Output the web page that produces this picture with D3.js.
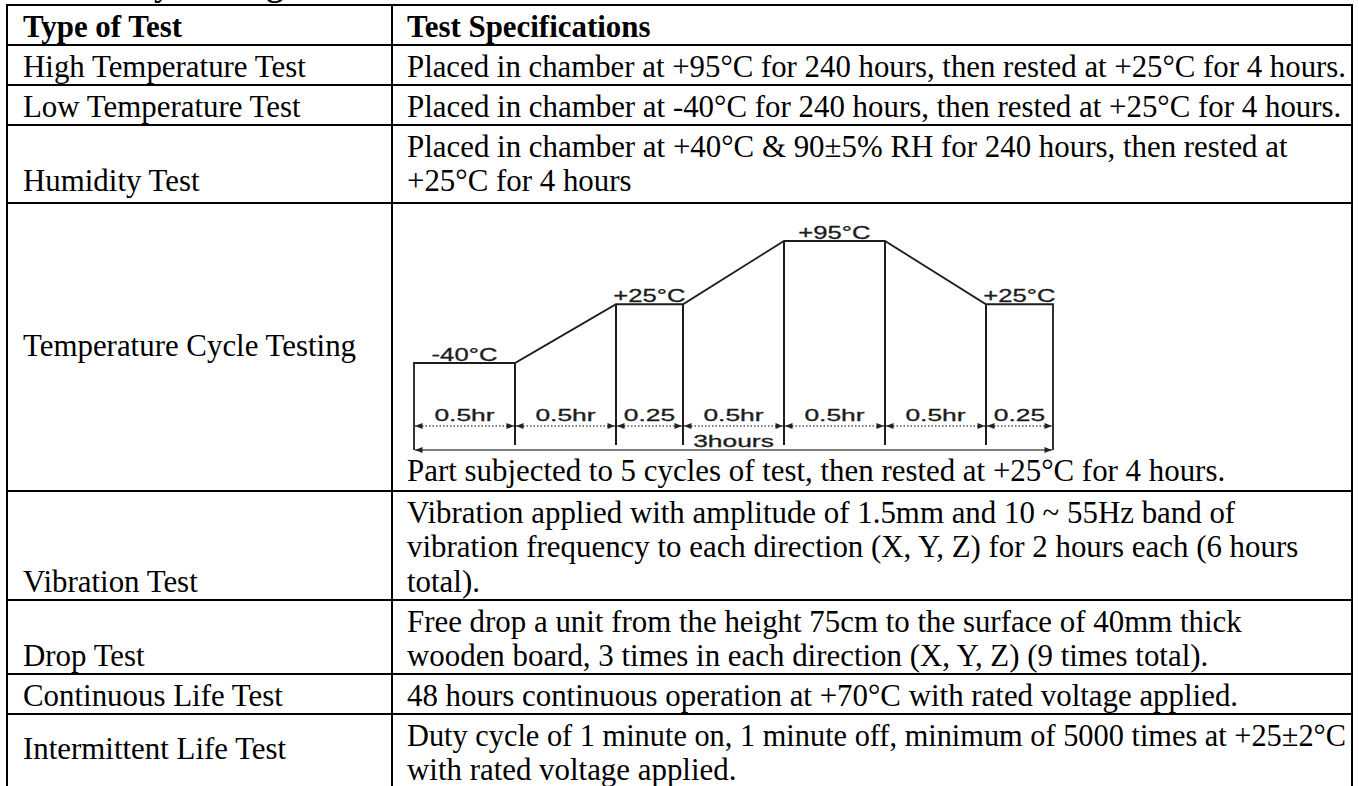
<!DOCTYPE html>
<html>
<head>
<meta charset="utf-8">
<script src="https://cdn.jsdelivr.net/npm/d3@7"></script>
<style>
  body { margin: 0; background: #fff; }
</style>
</head>
<body>
<script>
// table content
var testTypes = ["Type of Test", "High Temperature Test", "Low Temperature Test", "Humidity Test",
    "Temperature Cycle Testing", "Vibration Test", "Drop Test", "Continuous Life Test", "Intermittent Life Test"]
var testSpecs = [
    ["Test Specifications"],
    ["Placed in chamber at +95°C for 240 hours, then rested at +25°C for 4 hours."],
    ["Placed in chamber at -40°C for 240 hours, then rested at +25°C for 4 hours."],
    ["Placed in chamber at +40°C & 90±5% RH for 240 hours, then rested at", "+25°C for 4 hours"],
    ["Part subjected to 5 cycles of test, then rested at +25°C for 4 hours."],
    ["Vibration applied with amplitude of 1.5mm and 10 ~ 55Hz band of",
        "vibration frequency to each direction (X, Y, Z) for 2 hours each (6 hours", "total)."],
    ["Free drop a unit from the height 75cm to the surface of 40mm thick",
        "wooden board, 3 times in each direction (X, Y, Z) (9 times total)."],
    ["48 hours continuous operation at +70°C with rated voltage applied."],
    ["Duty cycle of 1 minute on, 1 minute off, minimum of 5000 times at +25±2°C", "with rated voltage applied."]
]
var titleText = "Reliability Testing"

// temperature cycle profile
var cycleDurations = [0.5, 0.5, 0.25, 0.5, 0.5, 0.5, 0.25]
var cycleLevels = [-40, -40, 25, 25, 95, 95, 25, 25]   // temperature at each segment boundary
var durationLabels = ["0.5hr", "0.5hr", "0.25", "0.5hr", "0.5hr", "0.5hr", "0.25"]
var holdSegments = [0, 2, 4, 6]
var levelLabels = ["-40°C", "+25°C", "+95°C", "+25°C"]
var totalLabel = "3hours"

// layout
var W = 1359, H = 786
var colX = [7, 392, 1352]
var rowEdges = [5, 45, 85, 125, 203, 491, 600, 674, 714, 800]
var rowAlign = ["bottom", "bottom", "bottom", "bottom", "middle", "bottom", "bottom", "bottom", "middle"]
var firstBase = 31.5, lineH = 34.5
var serif = "'Liberation Serif', 'Times New Roman', serif"
var sans = "'Liberation Sans', Arial, sans-serif"

var svg = d3.select("body").append("svg")
    .attr("width", W).attr("height", H)

// size the serif so the first spec line has the reference width
var probe = svg.append("text").style("font-family", serif).style("font-size", "100px").text(testSpecs[1][0])
var fs = 100 * 942 / probe.node().getComputedTextLength()
probe.remove()

svg.append("text")
    .attr("x", 20).attr("y", -4)
    .style("font-family", serif).style("font-weight", "bold").style("font-size", (fs * 1.1) + "px")
    .text(titleText)

// grid lines
var grid = svg.append("g").attr("stroke", "#000").attr("stroke-width", 2)
grid.selectAll("line.h").data(rowEdges.slice(0, -1)).enter().append("line")
    .attr("class", "h")
    .attr("x1", colX[0] - 1).attr("x2", colX[2] + 1)
    .attr("y1", function(d) { return d }).attr("y2", function(d) { return d })
grid.selectAll("line.v").data(colX).enter().append("line")
    .attr("class", "v")
    .attr("x1", function(d) { return d }).attr("x2", function(d) { return d })
    .attr("y1", rowEdges[0]).attr("y2", H + 10)

// cell text
var rows = svg.append("g").selectAll("g").data(testTypes).enter().append("g")
    .style("font-family", serif).style("font-size", fs + "px").attr("fill", "#000")
    .style("font-weight", function(d, i) { return i === 0 ? "bold" : "normal" })

rows.append("text")
    .attr("x", colX[0] + 16)
    .attr("y", function(d, i) {
        var top = rowEdges[i], bottom = rowEdges[i + 1]
        if (rowAlign[i] === "middle") return (top + Math.min(bottom, 786)) / 2 + 9
        return top + firstBase + (testSpecs[i].length - 1) * lineH
    })
    .text(function(d) { return d })

var specMax = colX[2] - colX[1] - 21
rows.each(function(d, i) {
    var g = d3.select(this)
    var lines = testSpecs[i]
    var y0 = rowEdges[i] + firstBase
    if (i === 4) y0 = rowEdges[i + 1] - 10   // caption under the diagram
    g.selectAll("text.spec").data(lines).enter().append("text")
        .attr("class", "spec")
        .attr("x", colX[1] + 15)
        .attr("y", function(l, j) { return y0 + j * lineH })
        .text(function(l) { return l })
        .each(function() {
            // squeeze a line that would run past the cell edge
            if (this.getComputedTextLength() > specMax) {
                d3.select(this).attr("textLength", specMax).attr("lengthAdjust", "spacingAndGlyphs")
            }
        })
})

// temperature cycle diagram
var diag = svg.append("g")
var defs = svg.append("defs")
defs.append("marker")
    .attr("id", "arrow")
    .attr("viewBox", "0 0 10 8").attr("refX", 10).attr("refY", 4)
    .attr("markerWidth", 9).attr("markerHeight", 6).attr("markerUnits", "userSpaceOnUse")
    .attr("orient", "auto-start-reverse")
    .append("path").attr("d", "M0,0L10,4L0,8Z").attr("fill", "#222")

var segWidth = d3.scaleLinear().domain([0, 0.25, 0.5]).range([0, 67, 101])
var x0 = 414
var bounds = [x0]
cycleDurations.forEach(function(d) { bounds.push(bounds[bounds.length - 1] + segWidth(d)) })
var yT = d3.scaleLinear().domain([-40, 95]).range([363, 241])
var dimY = 426, baseY = 450, tickBottom = 445

var profile = bounds.map(function(x, i) { return [x, yT(cycleLevels[i])] })
profile.unshift([x0, baseY])
profile.push([bounds[bounds.length - 1], baseY])
diag.append("path")
    .attr("d", d3.line()(profile))
    .attr("fill", "none").attr("stroke", "#1c1c1c").attr("stroke-width", 1.8)
    .attr("stroke-linejoin", "miter")

diag.selectAll("line.tick").data(bounds.slice(1, -1)).enter().append("line")
    .attr("class", "tick")
    .attr("x1", function(d) { return d }).attr("x2", function(d) { return d })
    .attr("y1", function(d, i) { return yT(cycleLevels[i + 1]) })
    .attr("y2", tickBottom)
    .attr("stroke", "#1c1c1c").attr("stroke-width", 2)

// dimension arrows for each segment
diag.selectAll("line.dim").data(cycleDurations).enter().append("line")
    .attr("class", "dim")
    .attr("x1", function(d, i) { return bounds[i] + 1 })
    .attr("x2", function(d, i) { return bounds[i + 1] - 1 })
    .attr("y1", dimY).attr("y2", dimY)
    .attr("stroke", "#555").attr("stroke-width", 1.3).attr("stroke-dasharray", "1.5,2")
    .attr("marker-start", "url(#arrow)").attr("marker-end", "url(#arrow)")

diag.append("line")
    .attr("x1", x0 + 1).attr("x2", bounds[bounds.length - 1] - 1)
    .attr("y1", baseY).attr("y2", baseY)
    .attr("stroke", "#555").attr("stroke-width", 1.3)
    .attr("marker-start", "url(#arrow)").attr("marker-end", "url(#arrow)")

function stretchedText(x, y, size, sx, str) {
    diag.append("g")
        .attr("transform", "translate(" + x + "," + y + ") scale(" + sx + ",1)")
        .append("text")
        .attr("text-anchor", "middle")
        .style("font-family", sans).style("font-size", size + "px")
        .attr("fill", "#1c1c1c").attr("stroke", "#1c1c1c").attr("stroke-width", 0.3)
        .text(str)
}

durationLabels.forEach(function(l, i) {
    stretchedText((bounds[i] + bounds[i + 1]) / 2, 421, 16, 1.65, l)
})
holdSegments.forEach(function(s, k) {
    stretchedText((bounds[s] + bounds[s + 1]) / 2, yT(cycleLevels[s]) - 2, 19, 1.35, levelLabels[k])
})
stretchedText((bounds[3] + bounds[4]) / 2, 447, 16, 1.65, totalLabel)
</script>
</body>
</html>
